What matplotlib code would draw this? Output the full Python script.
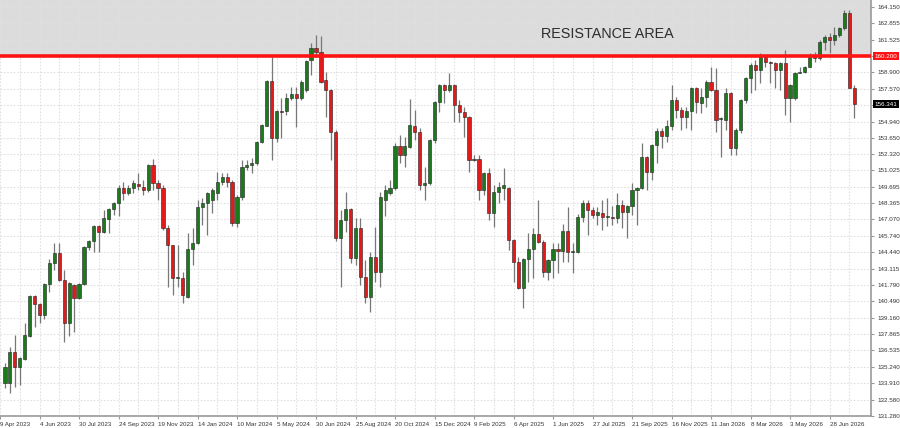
import numpy as np
import matplotlib.pyplot as plt

plt.rcParams['font.family'] = ['Liberation Sans', 'DejaVu Sans']

# weekly candles, first one = week of 16 Apr 2023
opens = [133.92, 133.92, 136.41, 135.20, 135.85, 137.70, 140.91, 140.27, 139.38, 141.88,
         143.56, 144.37, 142.20, 138.74, 141.80, 140.75, 141.88, 144.85, 145.33, 146.54,
         146.06, 147.10, 147.91, 148.39, 149.60, 149.19, 149.60, 149.92, 149.68, 149.43,
         151.44, 150.00, 149.60, 146.38, 145.01, 142.36, 142.36, 140.83, 144.69, 145.17,
         148.07, 148.39, 148.63, 149.19, 150.08, 150.48, 150.08, 146.78, 148.87, 151.28,
         151.44, 151.61, 153.29, 154.58, 158.20, 153.62, 155.79, 155.79, 156.83, 157.15,
         156.83, 157.47, 159.89, 160.85, 160.53, 158.28, 157.47, 154.10, 145.58, 147.02,
         147.91, 143.97, 146.38, 142.44, 140.83, 144.05, 142.84, 148.63, 149.19, 149.60,
         152.97, 152.25, 152.89, 154.58, 154.10, 149.84, 150.00, 153.46, 156.51, 157.88,
         157.47, 157.88, 156.27, 155.71, 155.30, 151.85, 151.93, 149.43, 150.80, 147.58,
         149.27, 149.60, 149.60, 145.42, 143.64, 141.56, 143.89, 144.69, 145.90, 145.25,
         142.84, 143.81, 144.69, 144.53, 146.14, 144.45, 144.45, 147.26, 148.39, 147.83,
         147.42, 147.58, 147.26, 147.30, 147.18, 148.23, 147.67, 148.15, 149.43, 149.60,
         152.09, 150.88, 153.05, 154.18, 153.78, 154.58, 156.67, 155.87, 155.30, 155.79,
         157.64, 156.43, 156.91, 158.12, 157.47, 155.15, 155.07, 157.23, 152.81, 154.26,
         156.67, 158.44, 159.48, 159.08, 160.13, 159.73, 159.65, 159.08, 159.65, 156.83,
         156.83, 158.84, 158.92, 159.33, 160.29, 160.05, 161.33, 161.74, 161.50, 161.90,
         162.46, 163.66, 157.64]
highs = [135.53, 136.81, 137.78, 135.98, 138.74, 141.00, 141.00, 140.35, 141.95, 143.89,
         145.17, 145.17, 143.00, 142.04, 141.85, 141.95, 144.90, 145.38, 146.60, 146.60,
         147.83, 147.95, 148.45, 149.84, 150.08, 149.84, 150.24, 150.80, 150.24, 151.50,
         151.93, 150.24, 149.84, 146.62, 145.05, 145.01, 142.84, 145.98, 146.38, 148.63,
         148.79, 149.25, 149.60, 150.88, 150.80, 150.80, 150.24, 149.03, 151.85, 151.85,
         152.01, 153.35, 154.70, 158.28, 160.13, 155.85, 156.83, 157.23, 157.72, 157.72,
         158.28, 159.89, 161.25, 161.90, 161.82, 158.92, 157.55, 154.26, 147.83, 149.27,
         147.95, 147.18, 147.18, 143.81, 144.45, 146.46, 149.27, 149.84, 150.24, 153.21,
         153.86, 153.70, 156.75, 155.87, 154.42, 151.28, 153.50, 156.55, 157.92, 157.92,
         158.84, 157.92, 156.67, 156.11, 155.35, 152.25, 152.25, 150.85, 151.20, 149.84,
         150.08, 151.20, 149.65, 145.47, 144.05, 143.95, 145.98, 146.38, 148.63, 145.42,
         143.85, 145.17, 145.17, 146.70, 148.07, 145.17, 147.50, 148.63, 148.63, 148.07,
         148.07, 148.63, 148.79, 148.15, 149.19, 148.63, 148.20, 150.00, 149.68, 153.21,
         152.15, 153.10, 154.42, 154.42, 155.07, 157.88, 156.91, 156.11, 156.11, 157.72,
         157.68, 157.64, 158.28, 159.33, 159.25, 155.30, 157.64, 157.30, 154.42, 156.75,
         158.50, 159.65, 159.89, 160.45, 160.20, 159.80, 159.73, 159.73, 160.69, 157.92,
         158.90, 159.33, 159.40, 160.45, 160.53, 161.50, 161.90, 162.06, 162.54, 162.54,
         163.91, 163.91, 157.88]
lows = [133.52, 133.11, 133.60, 133.76, 135.77, 137.62, 138.42, 138.74, 139.06, 141.23,
        143.00, 142.15, 137.21, 137.70, 138.02, 140.70, 141.80, 144.61, 144.45, 144.45,
        146.00, 145.98, 147.42, 147.34, 148.63, 149.03, 149.19, 149.43, 149.03, 149.27,
        149.43, 148.63, 146.22, 141.64, 140.99, 141.64, 140.35, 140.78, 143.40, 145.10,
        146.62, 145.82, 147.58, 148.63, 149.84, 149.68, 146.54, 146.46, 148.63, 151.04,
        150.80, 151.44, 153.21, 154.55, 151.85, 153.29, 153.62, 155.46, 156.67, 154.50,
        156.67, 157.31, 158.68, 160.13, 158.05, 155.30, 151.85, 145.33, 141.64, 146.06,
        143.56, 143.40, 141.80, 140.35, 139.63, 142.04, 141.64, 147.34, 149.03, 149.43,
        151.61, 151.28, 152.81, 153.46, 149.43, 148.63, 149.84, 153.21, 155.71, 156.43,
        157.31, 154.90, 154.90, 153.70, 150.88, 151.80, 148.63, 149.03, 147.02, 146.46,
        148.40, 148.63, 144.61, 142.04, 141.50, 139.95, 142.04, 142.36, 145.20, 142.44,
        142.20, 142.36, 142.76, 143.64, 143.64, 142.76, 144.37, 146.86, 145.82, 147.18,
        146.62, 146.22, 146.54, 146.62, 146.78, 146.38, 145.58, 147.42, 146.62, 149.55,
        149.43, 150.24, 151.61, 152.81, 153.29, 154.26, 155.22, 154.26, 154.42, 154.26,
        155.63, 155.63, 156.11, 157.40, 154.10, 152.09, 154.26, 152.25, 152.25, 154.02,
        156.43, 157.23, 157.47, 158.04, 159.32, 158.04, 157.64, 157.47, 155.46, 154.90,
        156.67, 158.80, 158.84, 159.30, 159.73, 159.89, 160.69, 160.45, 161.09, 161.74,
        162.30, 157.60, 155.22]
closes = [135.20, 136.41, 135.20, 135.93, 137.78, 140.91, 140.27, 139.38, 141.88, 143.56,
          144.37, 142.20, 138.74, 141.96, 140.75, 141.88, 144.85, 145.33, 146.54, 146.06,
          147.18, 147.91, 148.39, 149.60, 149.19, 149.60, 150.00, 149.76, 149.43, 151.44,
          150.00, 149.60, 146.38, 145.01, 142.36, 142.44, 140.99, 144.69, 145.17, 148.07,
          148.39, 149.19, 149.43, 150.08, 150.48, 150.08, 146.78, 148.87, 151.28, 151.44,
          151.61, 153.29, 154.66, 158.20, 153.62, 155.79, 155.71, 156.83, 157.15, 156.83,
          158.12, 159.81, 160.85, 160.53, 158.12, 157.47, 154.10, 145.58, 147.02, 147.91,
          143.97, 146.38, 142.44, 140.83, 144.05, 142.84, 148.87, 149.43, 149.60, 152.97,
          152.25, 152.97, 154.66, 154.10, 149.84, 150.00, 153.46, 156.51, 157.88, 157.47,
          157.88, 156.27, 155.71, 155.30, 151.85, 151.93, 149.43, 150.80, 147.58, 149.27,
          149.68, 149.84, 145.42, 143.64, 141.56, 143.89, 144.69, 145.90, 145.25, 142.84,
          143.81, 144.69, 144.53, 146.14, 144.45, 144.53, 147.26, 148.39, 147.83, 147.42,
          147.67, 147.26, 147.30, 147.22, 148.23, 147.67, 148.15, 149.43, 149.60, 152.09,
          150.88, 153.05, 154.18, 153.78, 154.58, 156.67, 155.87, 155.30, 155.79, 157.64,
          156.51, 156.91, 158.12, 157.47, 155.07, 155.22, 157.23, 152.81, 154.26, 156.67,
          158.44, 159.48, 159.08, 160.13, 159.73, 159.65, 159.08, 159.65, 156.83, 157.88,
          158.84, 158.92, 159.33, 160.29, 160.05, 161.33, 161.74, 161.50, 161.90, 162.46,
          163.66, 157.64, 156.34]

date_labels = ['9 Apr 2023', '4 Jun 2023', '30 Jul 2023', '24 Sep 2023', '19 Nov 2023',
               '14 Jan 2024', '10 Mar 2024', '5 May 2024', '30 Jun 2024', '25 Aug 2024',
               '20 Oct 2024', '15 Dec 2024', '9 Feb 2025', '6 Apr 2025', '1 Jun 2025',
               '27 Jul 2025', '21 Sep 2025', '16 Nov 2025', '11 Jan 2026', '8 Mar 2026',
               '3 May 2026', '28 Jun 2026']
price_ticks = [131.280, 132.580, 133.910, 135.240, 136.535, 137.865, 139.160, 140.490,
               141.790, 143.115, 144.440, 145.740, 147.070, 148.365, 149.695, 151.025,
               152.320, 153.650, 154.940, 156.240, 157.570, 158.900, 160.200, 161.525,
               162.855, 164.150]

resistance = 160.200
last_price = 156.341

o = np.array(opens)
h = np.array(highs)
l = np.array(lows)
c = np.array(closes)
x = np.arange(len(o))

fig = plt.figure(figsize=(9, 4.28), dpi=100)
ax = fig.add_axes([0, 12 / 428, 871 / 900, 416 / 428])
ax.set_xlim(-0.2, 175.4)
ax.set_ylim(131.26, 164.71)

# zona de resistencia
ax.axhspan(resistance, 164.71, color='#dcdcdc', lw=0, zorder=0)

# ejes / grid
ax.set_xticks(np.arange(len(date_labels)) * 8 - 1)
ax.set_xticklabels(date_labels)
ax.set_xticks(np.arange(len(date_labels)) * 8 + 3, minor=True)
ylabels = ['%.3f' % v for v in price_ticks]
ylabels[price_ticks.index(156.240)] = ''
ylabels[price_ticks.index(resistance)] = ''
ax.set_yticks(price_ticks)
ax.set_yticklabels(ylabels)
ax.yaxis.tick_right()
ax.grid(True, which='both', color='#e0e0e0', linestyle=(0, (1.5, 1.5)), linewidth=0.8, zorder=1)
ax.tick_params(axis='both', which='major', labelsize=4.5, length=2.5, colors='#999999',
               labelcolor='#333333', pad=2)
ax.tick_params(axis='x', which='minor', length=0)
for t in ax.get_xticklabels():
    t.set_ha('left')

for s in ['left', 'top']:
    ax.spines[s].set_visible(False)
for s in ['right', 'bottom']:
    ax.spines[s].set_color('#9a9a9a')
    ax.spines[s].set_linewidth(1.2)

# velas
up = c >= o
colors = np.where(up, '#1b7a1b', '#e31a1a')
ax.vlines(x, l, h, color='#777777', lw=0.9, zorder=3)
body_bot = np.minimum(o, c)
body_h = np.maximum(np.abs(c - o), 0.07)
ax.bar(x, body_h, 0.64, bottom=body_bot, color=colors, edgecolor='#222222',
       linewidth=0.4, zorder=4)

# linea de resistencia
ax.axhline(resistance, color='#ff1414', lw=2.6, zorder=5)
ax.text(122, 161.98, 'RESISTANCE AREA', fontsize=10.4, color='#2e2e2e',
        ha='center', va='center', zorder=6)

# etiquetas de precio
ax.text(1.004, resistance, '%.3f' % resistance, transform=ax.get_yaxis_transform(),
        fontsize=4.5, color='white', ha='left', va='center', clip_on=False,
        bbox=dict(boxstyle='square,pad=0.3', fc='#ff1414', ec='none'))
ax.text(1.004, last_price, '%.3f' % last_price, transform=ax.get_yaxis_transform(),
        fontsize=4.5, color='white', ha='left', va='center', clip_on=False,
        bbox=dict(boxstyle='square,pad=0.3', fc='black', ec='none'))

fig.savefig('out.png', dpi=100)
